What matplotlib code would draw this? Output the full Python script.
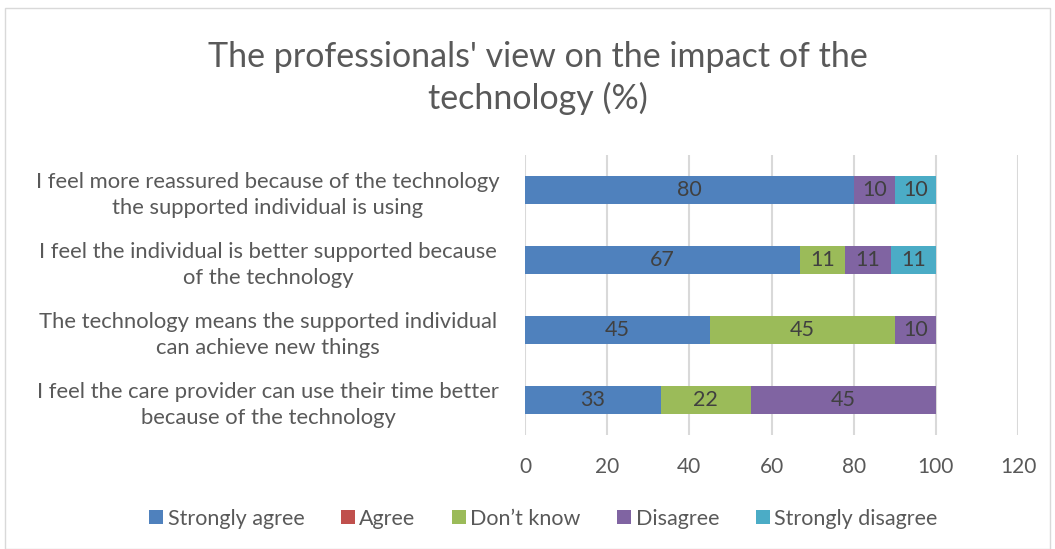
import matplotlib.pyplot as plt
import matplotlib.patches as mpatches

plt.rcParams["font.family"] = ["Lato", "DejaVu Sans"]

categories = [
    "I feel more reassured because of the technology\nthe supported individual is using",
    "I feel the individual is better supported because\nof the technology",
    "The technology means the supported individual\ncan achieve new things",
    "I feel the care provider can use their time better\nbecause of the technology",
]
series_names = ["Strongly agree", "Agree", "Don\u2019t know", "Disagree", "Strongly disagree"]
strongly_agree = [80, 67, 45, 33]
agree = [0, 0, 0, 0]
dont_know = [0, 11, 45, 22]
disagree = [10, 11, 10, 45]
strongly_disagree = [10, 11, 0, 0]
x_ticks = [0, 20, 40, 60, 80, 100, 120]

COLORS = ["#4F81BD", "#C0504D", "#9BBB59", "#8064A2", "#4BACC6"]
TXT = "#595959"
LBL = "#404040"

fig = plt.figure(figsize=(10.55, 5.49), dpi=100)
fig.add_artist(mpatches.Rectangle((0.005, 0.0), 0.99, 0.985, transform=fig.transFigure,
                                  fill=False, edgecolor="#D9D9D9", linewidth=1))

ax = fig.add_axes([0.4976, 0.2077, 0.4674, 0.51])
ypos = list(range(len(categories)))
left = [0] * len(categories)
for name, vals, col in zip(series_names,
                           [strongly_agree, agree, dont_know, disagree, strongly_disagree],
                           COLORS):
    bars = ax.barh(ypos, vals, left=left, height=0.4, color=col, label=name, zorder=3)
    for b, v in zip(bars, vals):
        if v:
            ax.text(b.get_x() + b.get_width() / 2, b.get_y() + b.get_height() / 2, str(v),
                    ha="center", va="center", fontsize=15.5, color=LBL, zorder=4)
    left = [a + b for a, b in zip(left, vals)]

ax.set_xlim(0, 120)
ax.set_ylim(3.5, -0.5)
ax.set_xticks(x_ticks)
ax.set_yticks(ypos)
ax.set_yticklabels(categories, fontsize=15.8, color=TXT, ha="center", linespacing=1.35)
ax.tick_params(axis="y", length=0, pad=185)
ax.tick_params(axis="x", length=0, labelsize=15, labelcolor=TXT, pad=16)
ax.grid(axis="x", color="#D9D9D9", linewidth=1.5, zorder=0)
for s in ax.spines.values():
    s.set_visible(False)

fig.text(0.51, 0.79, "The professionals' view on the impact of the\ntechnology (%)",
         ha="center", va="bottom", fontsize=24.5, color=TXT, linespacing=1.35)

fig.legend(loc="center", bbox_to_anchor=(0.515, 0.055), ncol=5, frameon=False,
           fontsize=15.5, labelcolor=TXT, handlelength=0.65, handleheight=0.65,
           handletextpad=0.2, columnspacing=1.7)

fig.savefig("out.png", dpi=100)
